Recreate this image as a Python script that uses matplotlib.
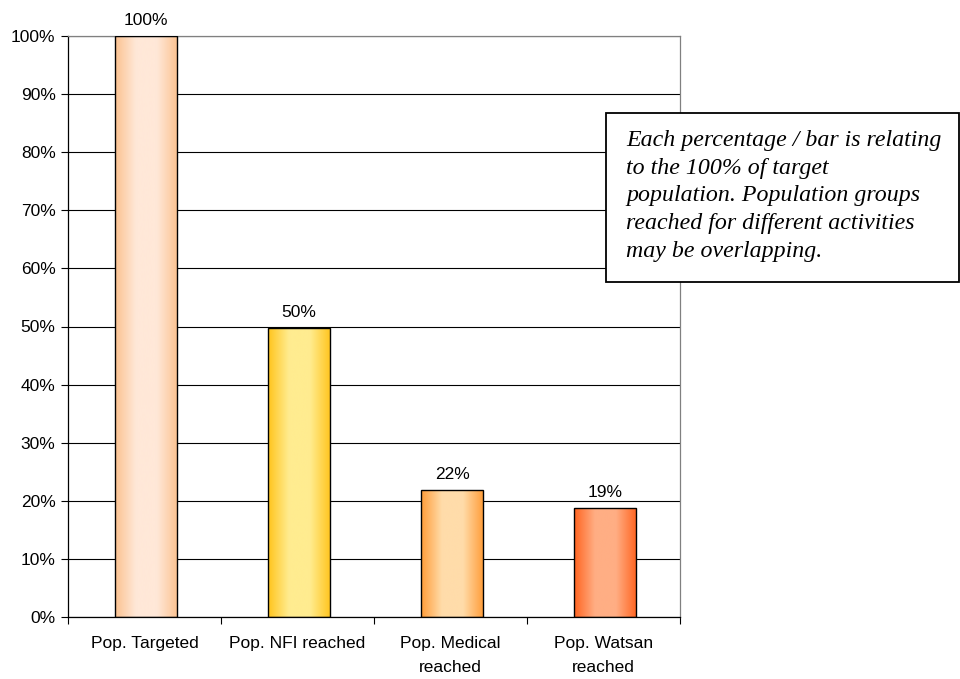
import numpy as np
import matplotlib
matplotlib.use("Agg")
import matplotlib.pyplot as plt
from matplotlib.colors import LinearSegmentedColormap

categories = ["Pop. Targeted", "Pop. NFI reached", "Pop. Medical\nreached", "Pop. Watsan\nreached"]
values = [1.00, 0.497, 0.219, 0.188]
edge_colors = ["#FCC290", "#FFC41C", "#FF9C38", "#FF6420"]
center_colors = ["#FFE8D8", "#FFEC90", "#FFDCAA", "#FFAE84"]
y_ticks = [i / 10 for i in range(11)]
note = ("Each percentage / bar is relating\nto the 100% of target\n"
        "population. Population groups\nreached for different activities\n"
        "may be overlapping.")

plt.rcParams["font.family"] = ["Liberation Sans", "DejaVu Sans"]

fig = plt.figure(figsize=(9.6, 6.79), dpi=100)
ax = fig.add_axes([68 / 960, 1 - 617 / 679, 612 / 960, 581 / 679])

x = np.arange(len(categories))
width = 0.41
bars = ax.bar(x + 0.01, values, width=width, color="none", edgecolor="black",
              linewidth=1.0, zorder=3)

# horizontal gradient fill inside each bar
for bar, c_edge, c_mid in zip(bars, edge_colors, center_colors):
    cmap = LinearSegmentedColormap.from_list("g", [c_edge, c_mid, c_mid, c_edge])
    grad = np.linspace(0, 1, 256).reshape(1, -1)
    x0, y0 = bar.get_x(), bar.get_y()
    w, h = bar.get_width(), bar.get_height()
    im = ax.imshow(grad, cmap=cmap, aspect="auto", extent=[x0, x0 + w, y0, y0 + h],
                   zorder=2, interpolation="bicubic")
    im.set_clip_path(bar)

for bar, v in zip(bars, values):
    ax.text(bar.get_x() + bar.get_width() / 2, v + 0.014, f"{v * 100:.0f}%",
            ha="center", va="bottom", fontsize=12.5)

ax.set_xlim(-0.5, len(categories) - 0.5)
ax.set_ylim(0, 1)
ax.set_yticks(y_ticks)
ax.set_yticklabels([f"{t * 100:.0f}%" for t in y_ticks], fontsize=12.5)
ax.yaxis.grid(True, color="#000000", linewidth=0.8, zorder=0)
ax.set_axisbelow(True)

ax.set_xticks(x)
ax.set_xticklabels(categories, fontsize=12.5, linespacing=1.75)
ax.tick_params(axis="x", length=0, pad=14)
ax.set_xticks(np.arange(-0.5, len(categories)), minor=True)
ax.tick_params(axis="x", which="minor", length=5, width=0.8)
ax.tick_params(axis="y", length=5, width=0.8, pad=4)

for side in ["left", "bottom"]:
    ax.spines[side].set_color("black")
    ax.spines[side].set_linewidth(0.9)
for side in ["right", "top"]:
    ax.spines[side].set_color("#808080")
    ax.spines[side].set_linewidth(0.9)

box = plt.Rectangle((606 / 960, 1 - 282 / 679), 353 / 960, 169 / 679,
                    transform=fig.transFigure, facecolor="white", edgecolor="black",
                    linewidth=1.3, zorder=5)
fig.patches.append(box)
fig.text(626 / 960, 1 - 130 / 679, note, ha="left", va="top", fontsize=17.2,
         family=["Liberation Serif", "DejaVu Serif"], style="italic",
         linespacing=1.42, zorder=6)

fig.savefig("out.png", dpi=100)
